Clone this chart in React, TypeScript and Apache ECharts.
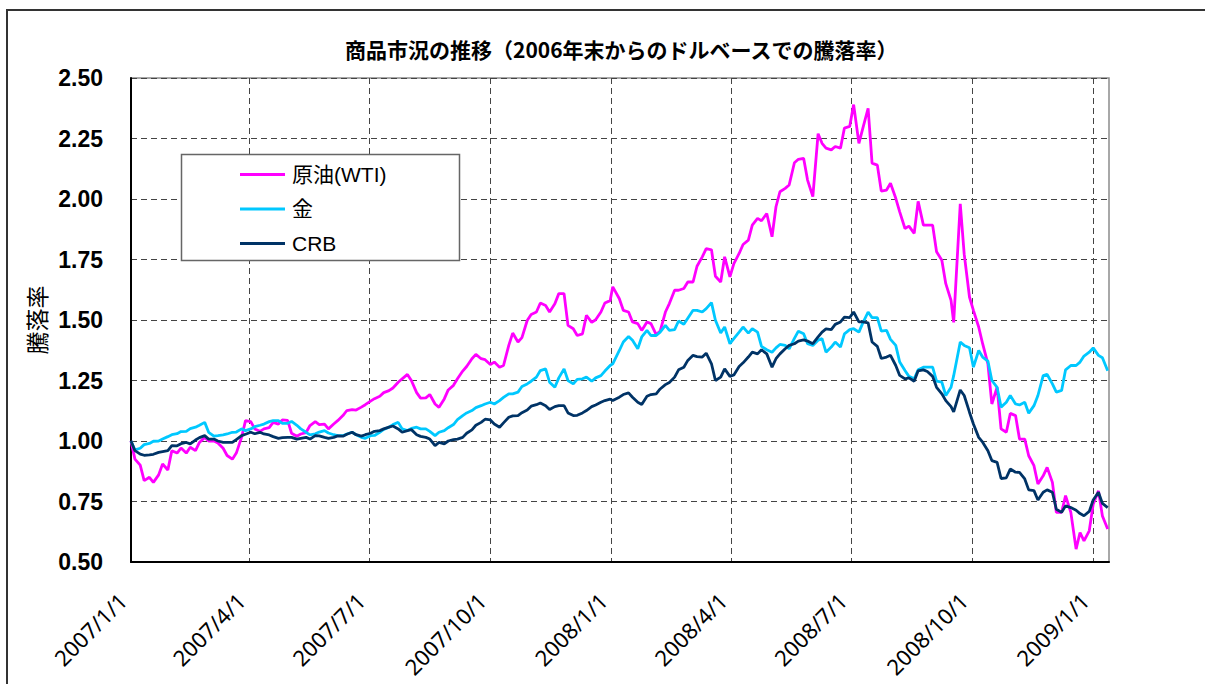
import React, { useEffect, useRef } from 'react';
import * as echarts from 'echarts';

const titleText = '商品市況の推移（2006年末からのドルベースでの騰落率）';
const yAxisName = '騰落率';
const seriesNames = ['原油(WTI)', '金', 'CRB'];
const seriesColors = ['#ff00ff', '#00c8ff', '#003366'];

const quarterTicks = [
  '2007-01-01', '2007-04-01', '2007-07-01', '2007-10-01',
  '2008-01-01', '2008-04-01', '2008-07-01', '2008-10-01', '2009-01-01',
];
const axisStart = '2007-01-01';
const axisEnd = '2009-01-13';

// sample dates (read off the picture roughly twice a week)
const dates = [
  '2007-01-01', '2007-01-04', '2007-01-08', '2007-01-11', '2007-01-15', '2007-01-18', '2007-01-22', '2007-01-25', '2007-01-29',
  '2007-02-01', '2007-02-05', '2007-02-08', '2007-02-12', '2007-02-15', '2007-02-19', '2007-02-22', '2007-02-26',
  '2007-03-01', '2007-03-05', '2007-03-08', '2007-03-12', '2007-03-15', '2007-03-19', '2007-03-22', '2007-03-26', '2007-03-29',
  '2007-04-02', '2007-04-05', '2007-04-09', '2007-04-12', '2007-04-16', '2007-04-19', '2007-04-23', '2007-04-26', '2007-04-30',
  '2007-05-03', '2007-05-07', '2007-05-10', '2007-05-14', '2007-05-17', '2007-05-21', '2007-05-24', '2007-05-28', '2007-05-31',
  '2007-06-04', '2007-06-07', '2007-06-11', '2007-06-14', '2007-06-18', '2007-06-21', '2007-06-25', '2007-06-28',
  '2007-07-02', '2007-07-05', '2007-07-09', '2007-07-12', '2007-07-16', '2007-07-19', '2007-07-23', '2007-07-26', '2007-07-30',
  '2007-08-02', '2007-08-06', '2007-08-09', '2007-08-13', '2007-08-16', '2007-08-20', '2007-08-23', '2007-08-27', '2007-08-30',
  '2007-09-03', '2007-09-06', '2007-09-10', '2007-09-13', '2007-09-17', '2007-09-20', '2007-09-24', '2007-09-27',
  '2007-10-01', '2007-10-04', '2007-10-08', '2007-10-11', '2007-10-15', '2007-10-18', '2007-10-22', '2007-10-25', '2007-10-29',
  '2007-11-01', '2007-11-05', '2007-11-08', '2007-11-12', '2007-11-15', '2007-11-19', '2007-11-22', '2007-11-26', '2007-11-29',
  '2007-12-03', '2007-12-06', '2007-12-10', '2007-12-13', '2007-12-17', '2007-12-20', '2007-12-24', '2007-12-27', '2007-12-31',
  '2008-01-02', '2008-01-07', '2008-01-10', '2008-01-14', '2008-01-17', '2008-01-21', '2008-01-24', '2008-01-28', '2008-01-31',
  '2008-02-04', '2008-02-07', '2008-02-11', '2008-02-14', '2008-02-18', '2008-02-21', '2008-02-25', '2008-02-28',
  '2008-03-03', '2008-03-06', '2008-03-10', '2008-03-13', '2008-03-17', '2008-03-20', '2008-03-24', '2008-03-27', '2008-03-31',
  '2008-04-03', '2008-04-07', '2008-04-10', '2008-04-14', '2008-04-17', '2008-04-21', '2008-04-24', '2008-04-28',
  '2008-05-02', '2008-05-05', '2008-05-08', '2008-05-12', '2008-05-15', '2008-05-19', '2008-05-22', '2008-05-26', '2008-05-29',
  '2008-06-02', '2008-06-06', '2008-06-09', '2008-06-12', '2008-06-16', '2008-06-19', '2008-06-23', '2008-06-26', '2008-06-30',
  '2008-07-03', '2008-07-07', '2008-07-10', '2008-07-14', '2008-07-17', '2008-07-21', '2008-07-24', '2008-07-28', '2008-07-31',
  '2008-08-04', '2008-08-07', '2008-08-11', '2008-08-14', '2008-08-18', '2008-08-21', '2008-08-25', '2008-08-28',
  '2008-09-01', '2008-09-04', '2008-09-08', '2008-09-11', '2008-09-15', '2008-09-17', '2008-09-22', '2008-09-25', '2008-09-29',
  '2008-10-02', '2008-10-06', '2008-10-09', '2008-10-13', '2008-10-16', '2008-10-20', '2008-10-23', '2008-10-27', '2008-10-30',
  '2008-11-03', '2008-11-06', '2008-11-10', '2008-11-13', '2008-11-17', '2008-11-20', '2008-11-24', '2008-11-27',
  '2008-12-01', '2008-12-04', '2008-12-08', '2008-12-11', '2008-12-15', '2008-12-19', '2008-12-22', '2008-12-25', '2008-12-29',
  '2009-01-01', '2009-01-05', '2009-01-08', '2009-01-12',
];

const oil = [
  1.00, 0.925, 0.90, 0.836, 0.85, 0.829, 0.86, 0.905, 0.88,
  0.96, 0.95, 0.971, 0.95, 0.974, 0.96, 0.994, 1.015,
  1.00, 1.00, 0.992, 0.97, 0.94, 0.925, 0.95, 1.015, 1.084,
  1.08, 1.05, 1.04, 1.05, 1.055, 1.077, 1.07, 1.087, 1.085,
  1.032, 1.02, 1.029, 1.035, 1.064, 1.08, 1.068, 1.07, 1.05,
  1.07, 1.084, 1.105, 1.126, 1.13, 1.128, 1.14, 1.15,
  1.165, 1.175, 1.185, 1.20, 1.208, 1.219, 1.243, 1.257, 1.275,
  1.25, 1.20, 1.177, 1.178, 1.192, 1.153, 1.139, 1.174, 1.211,
  1.23, 1.257, 1.289, 1.308, 1.34, 1.358, 1.34, 1.336,
  1.316, 1.326, 1.305, 1.312, 1.395, 1.446, 1.409, 1.427, 1.498,
  1.523, 1.533, 1.57, 1.56, 1.533, 1.567, 1.609, 1.609, 1.478,
  1.464, 1.436, 1.443, 1.519, 1.49, 1.501, 1.533, 1.57, 1.58,
  1.637, 1.588, 1.54, 1.533, 1.492, 1.485, 1.457, 1.492, 1.485,
  1.44, 1.454, 1.533, 1.568, 1.623, 1.623, 1.63, 1.657,
  1.657, 1.722, 1.761, 1.795, 1.79, 1.681, 1.657, 1.761, 1.678,
  1.733, 1.775, 1.812, 1.83, 1.892, 1.92, 1.91, 1.94,
  1.844, 1.968, 2.03, 2.044, 2.058, 2.15, 2.164, 2.168, 2.078,
  2.01, 2.27, 2.23, 2.21, 2.203, 2.217, 2.21, 2.293, 2.30,
  2.39, 2.23, 2.293, 2.375, 2.148, 2.14, 2.033, 2.037, 2.065,
  2.003, 1.947, 1.878, 1.888, 1.858, 1.99, 1.892, 1.892,
  1.892, 1.782, 1.747, 1.65, 1.581, 1.49, 1.98, 1.772, 1.595,
  1.54, 1.471, 1.402, 1.319, 1.153, 1.222, 1.05, 1.036, 1.114,
  1.105, 1.008, 1.008, 0.939, 0.898, 0.822, 0.856, 0.891,
  0.829, 0.705, 0.705, 0.774, 0.705, 0.553, 0.622, 0.587, 0.629,
  0.739, 0.794, 0.69, 0.636,
];

const gold = [
  1.00, 0.963, 0.97, 0.985, 0.99, 0.999, 1.00, 1.008, 1.018,
  1.026, 1.03, 1.039, 1.04, 1.051, 1.057, 1.065, 1.077,
  1.036, 1.02, 1.022, 1.025, 1.029, 1.036, 1.037, 1.05, 1.043,
  1.05, 1.059, 1.065, 1.07, 1.08, 1.084, 1.084, 1.073, 1.073,
  1.081, 1.065, 1.05, 1.036, 1.025, 1.03, 1.037, 1.043, 1.033,
  1.026, 1.022, 1.022, 1.029, 1.036, 1.026, 1.015, 1.011,
  1.022, 1.023, 1.036, 1.048, 1.057, 1.068, 1.077, 1.05, 1.043,
  1.052, 1.057, 1.05, 1.05, 1.04, 1.022, 1.036, 1.043, 1.055,
  1.068, 1.088, 1.105, 1.116, 1.126, 1.138, 1.146, 1.153,
  1.16, 1.153, 1.167, 1.18, 1.195, 1.195, 1.202, 1.225, 1.236,
  1.247, 1.264, 1.291, 1.298, 1.243, 1.222, 1.261, 1.298, 1.25,
  1.236, 1.255, 1.257, 1.264, 1.247, 1.261, 1.27, 1.289, 1.312,
  1.319, 1.374, 1.409, 1.432, 1.416, 1.381, 1.43, 1.457, 1.436,
  1.436, 1.45, 1.478, 1.457, 1.46, 1.496, 1.482, 1.507,
  1.54, 1.54, 1.533, 1.547, 1.572, 1.499, 1.446, 1.471, 1.402,
  1.423, 1.45, 1.471, 1.446, 1.464, 1.45, 1.391, 1.377,
  1.367, 1.385, 1.399, 1.395, 1.381, 1.424, 1.454, 1.443, 1.402,
  1.395, 1.416, 1.423, 1.367, 1.388, 1.409, 1.388, 1.443, 1.46,
  1.464, 1.45, 1.488, 1.533, 1.51, 1.51, 1.454, 1.457, 1.42,
  1.395, 1.326, 1.291, 1.267, 1.257, 1.294, 1.305, 1.305,
  1.305, 1.247, 1.243, 1.188, 1.222, 1.27, 1.409, 1.395, 1.385,
  1.305, 1.374, 1.347, 1.33, 1.25, 1.222, 1.14, 1.16, 1.188,
  1.153, 1.149, 1.16, 1.115, 1.146, 1.188, 1.27, 1.275,
  1.236, 1.202, 1.209, 1.294, 1.312, 1.312, 1.326, 1.351, 1.367,
  1.385, 1.354, 1.344, 1.29,
];

const crb = [
  1.00, 0.96, 0.946, 0.941, 0.943, 0.945, 0.953, 0.956, 0.96,
  0.981, 0.98, 0.989, 0.994, 0.988, 1.004, 1.014, 1.022,
  1.008, 1.008, 1.00, 0.994, 0.994, 0.994, 1.006, 1.022, 1.028,
  1.036, 1.03, 1.036, 1.029, 1.025, 1.018, 1.011, 1.014, 1.015,
  1.015, 1.008, 1.011, 1.015, 1.008, 1.022, 1.021, 1.015, 1.011,
  1.015, 1.021, 1.02, 1.028, 1.036, 1.026, 1.02, 1.026,
  1.032, 1.04, 1.043, 1.05, 1.057, 1.062, 1.05, 1.036, 1.043,
  1.047, 1.026, 1.019, 1.015, 1.008, 0.981, 0.994, 0.988, 1.00,
  1.006, 1.008, 1.015, 1.032, 1.046, 1.065, 1.077, 1.09,
  1.087, 1.07, 1.057, 1.075, 1.098, 1.104, 1.105, 1.117, 1.128,
  1.144, 1.15, 1.157, 1.146, 1.13, 1.142, 1.146, 1.146, 1.116,
  1.105, 1.106, 1.116, 1.126, 1.142, 1.149, 1.16, 1.167, 1.173,
  1.167, 1.181, 1.192, 1.199, 1.181, 1.16, 1.151, 1.185, 1.192,
  1.195, 1.215, 1.233, 1.242, 1.264, 1.294, 1.305, 1.333,
  1.354, 1.349, 1.347, 1.363, 1.319, 1.25, 1.264, 1.298, 1.267,
  1.273, 1.308, 1.323, 1.347, 1.367, 1.36, 1.377, 1.36,
  1.305, 1.34, 1.36, 1.381, 1.395, 1.402, 1.413, 1.418, 1.413,
  1.402, 1.43, 1.45, 1.463, 1.46, 1.482, 1.492, 1.512, 1.51,
  1.533, 1.492, 1.492, 1.488, 1.409, 1.391, 1.341, 1.347, 1.354,
  1.312, 1.271, 1.257, 1.261, 1.247, 1.29, 1.294, 1.287,
  1.267, 1.222, 1.195, 1.167, 1.142, 1.12, 1.211, 1.188, 1.119,
  1.07, 1.015, 0.995, 0.96, 0.919, 0.912, 0.845, 0.848, 0.884,
  0.871, 0.87, 0.843, 0.798, 0.795, 0.756, 0.788, 0.798,
  0.788, 0.718, 0.705, 0.732, 0.725, 0.714, 0.70, 0.691, 0.709,
  0.756, 0.788, 0.742, 0.725,
];

const seriesValues = [oil, gold, crb];

function toTime(s: string): number {
  const [y, m, d] = s.split('-').map(Number);
  return new Date(y, m - 1, d).getTime();
}

function fmtDate(v: number): string {
  const d = new Date(v);
  return `${d.getFullYear()}/${d.getMonth() + 1}/${d.getDate()}`;
}

export default function App() {
  const ref = useRef<HTMLDivElement>(null);

  useEffect(() => {
    if (!ref.current) return;
    const chart = echarts.init(ref.current, undefined, { renderer: 'svg' });
    const qt = quarterTicks.map(toTime);
    const dashed = { type: [6, 4] as any, color: '#444', width: 1 };

    chart.setOption({
      animation: false,
      backgroundColor: '#ffffff',
      title: {
        text: titleText,
        left: 345,
        top: 38,
        padding: 0,
        textStyle: {
          fontFamily: '"Noto Sans CJK JP", sans-serif',
          fontWeight: 'bold',
          fontSize: 21,
          color: '#000',
        },
      },
      legend: {
        orient: 'vertical',
        left: 240,
        top: 164,
        padding: 0,
        itemGap: 13.5,
        itemWidth: 45,
        itemHeight: 3,
        icon: 'rect',
        z: 10,
        data: seriesNames,
        textStyle: {
          fontFamily: '"Liberation Sans", "Noto Sans CJK JP", sans-serif',
          fontSize: 21,
          color: '#000',
          padding: [0, 0, 0, 2],
        },
      },
      grid: {
        left: 131,
        top: 78,
        right: 96,
        bottom: 122,
        show: true,
        borderColor: '#8c8c8c',
        borderWidth: 1.5,
        containLabel: false,
      },
      xAxis: {
        type: 'value',
        min: toTime(axisStart),
        max: toTime(axisEnd),
        axisLine: { show: true, lineStyle: { color: '#000', width: 2 } },
        axisTick: { show: false, customValues: qt },
        axisLabel: {
          customValues: qt,
          rotate: 45,
          margin: 26,
          padding: [0, 12, 0, 0],
          formatter: (v: number) => fmtDate(v),
          fontFamily: '"Noto Sans", sans-serif',
          fontSize: 22,
          color: '#000',
        },
        splitLine: { show: true, lineStyle: dashed },
      },
      yAxis: {
        type: 'value',
        min: 0.5,
        max: 2.5,
        interval: 0.25,
        name: yAxisName,
        nameLocation: 'middle',
        nameRotate: 90,
        nameGap: 84,
        nameTextStyle: {
          fontFamily: '"Noto Sans CJK JP", sans-serif',
          fontSize: 23,
          color: '#000',
        },
        axisLine: { show: true, lineStyle: { color: '#000', width: 2 } },
        axisTick: { show: false },
        axisLabel: {
          formatter: (v: number) => v.toFixed(2),
          fontFamily: '"Liberation Sans", sans-serif',
          fontWeight: 'bold',
          fontSize: 23,
          margin: 28,
          color: '#000',
        },
        splitLine: { show: true, lineStyle: dashed },
      },
      graphic: [
        {
          type: 'rect',
          silent: true,
          z: 0,
          shape: { x: 7, y: 10, width: 1260, height: 800 },
          style: { fill: 'none', stroke: '#333', lineWidth: 2 },
        },
        {
          type: 'rect',
          silent: true,
          z: 3,
          shape: { x: 181.5, y: 154.5, width: 278, height: 106 },
          style: { fill: '#fff', stroke: '#666', lineWidth: 1.5 },
        },
      ],
      series: seriesNames.map((name, i) => ({
        name,
        type: 'line',
        showSymbol: false,
        symbol: 'none',
        data: dates.map((d, j) => [toTime(d), seriesValues[i][j]]),
        lineStyle: { color: seriesColors[i], width: 2.8 },
        itemStyle: { color: seriesColors[i] },
      })),
    });

    return () => chart.dispose();
  }, []);

  return (
    <div
      ref={ref}
      style={{ position: 'absolute', left: 0, top: 0, width: 1205, height: 684 }}
    />
  );
}
